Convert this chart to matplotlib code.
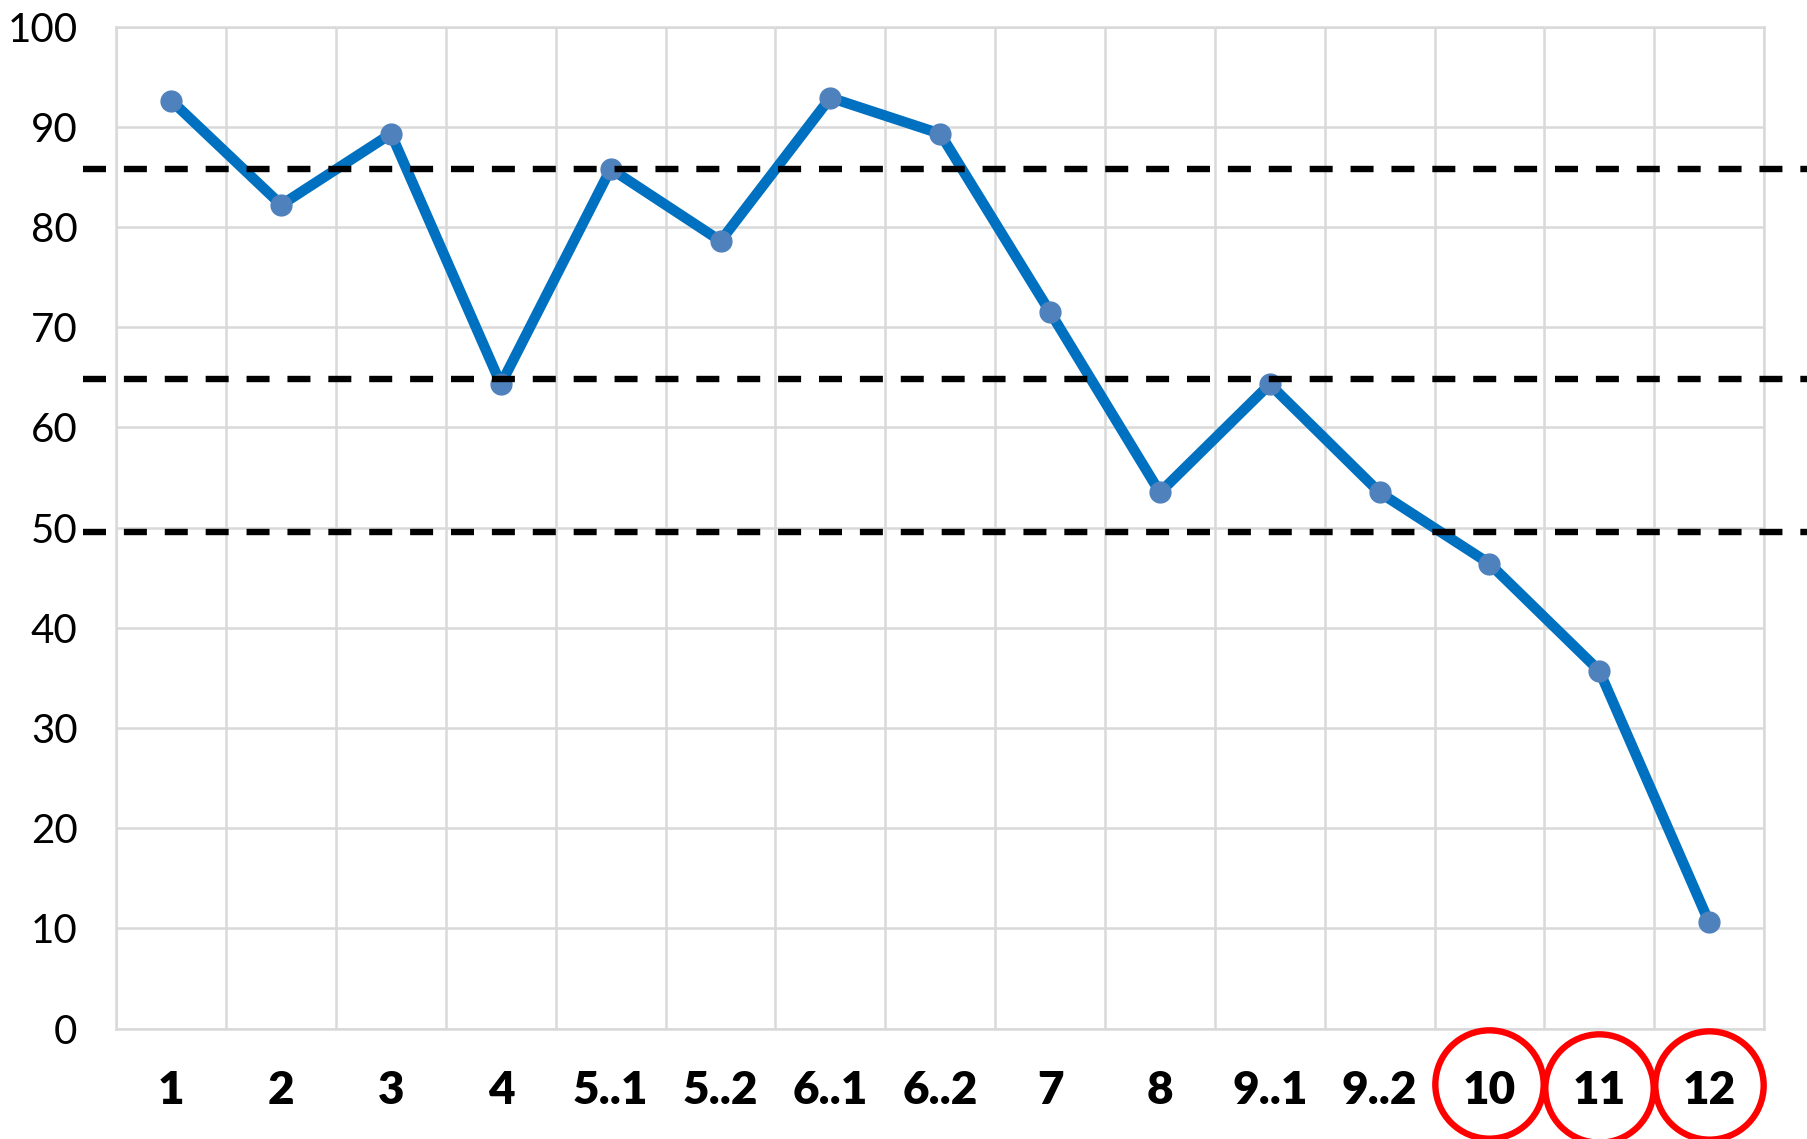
import matplotlib.pyplot as plt
from matplotlib.transforms import blended_transform_factory

# categories and values
labels = ["1", "2", "3", "4", "5..1", "5..2", "6..1", "6..2", "7", "8",
          "9..1", "9..2", "10", "11", "12"]
values = [92.6, 82.2, 89.3, 64.3, 85.8, 78.6, 92.9, 89.3, 71.5, 53.5,
          64.3, 53.5, 46.4, 35.7, 10.6]
ref_lines = [85.8, 64.8, 49.6]
circled = ["10", "11", "12"]
circle_y = [-0.055, -0.059, -0.056]

plt.rcParams['font.family'] = ['Lato', 'DejaVu Sans']

fig = plt.figure(figsize=(18.08, 11.39), dpi=100)
ax = fig.add_axes([0.0644, 0.097, 0.9113, 0.8797])

x = list(range(len(labels)))
ax.plot(x, values, color="#0070C0", lw=7.5, zorder=3, solid_joinstyle='round')
ax.plot(x, values, 'o', color="#4F81BD", ms=15, zorder=4)

for v in ref_lines:
    ax.axhline(v, xmin=-0.02, xmax=1.03, color="black", lw=4.6,
               dashes=(3.6, 2.8), clip_on=False, zorder=5)

ax.set_xlim(-0.5, len(labels) - 0.5)
ax.set_ylim(0, 100)
ax.set_yticks(range(0, 101, 10))
ax.set_xticks(x)
ax.set_xticklabels(labels, fontsize=33, fontweight='heavy')
ax.set_xticks([i + 0.5 for i in range(-1, len(labels))], minor=True)
ax.tick_params(axis='x', which='major', length=0, pad=30)
ax.tick_params(axis='x', which='minor', length=0)
ax.tick_params(axis='y', length=0, pad=28, labelsize=29)

ax.grid(axis='y', color="#D9D9D9", lw=1.8)
ax.grid(axis='x', which='minor', color="#D9D9D9", lw=1.8)
ax.set_axisbelow(True)
for s in ax.spines.values():
    s.set_color("#D9D9D9")
    s.set_linewidth(1.8)

# red circles around last labels
tr = blended_transform_factory(ax.transData, ax.transAxes)
for lab, cy in zip(circled, circle_y):
    ax.plot(labels.index(lab), cy, 'o', mfc='none', mec='red', ms=78, mew=4.6,
            transform=tr, clip_on=False, zorder=6)

fig.savefig("out.png", dpi=100)
